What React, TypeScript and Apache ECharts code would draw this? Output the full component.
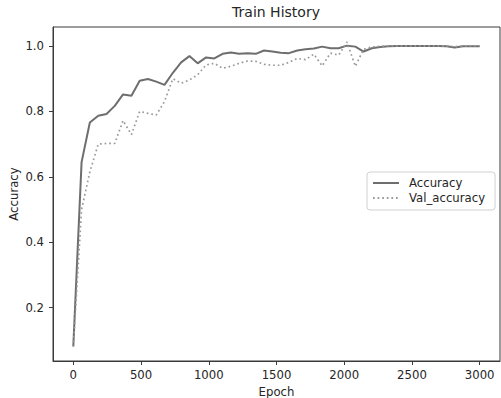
import React, { useEffect, useRef } from "react";
import * as echarts from "echarts";

const epochs = [
  0, 61, 122, 184, 245, 306, 367, 429, 490, 551, 612, 673, 735, 796, 857, 918, 980, 1041, 1102, 1163,
  1224, 1286, 1347, 1408, 1469, 1531, 1592, 1653, 1714, 1776, 1837, 1898, 1959, 2020, 2082, 2143,
  2204, 2265, 2327, 2388, 2449, 2510, 2571, 2633, 2694, 2755, 2816, 2878, 2939, 3000,
];

const accuracy = [
  0.083, 0.645, 0.766, 0.787, 0.792, 0.817, 0.852, 0.848, 0.894, 0.899, 0.891, 0.881, 0.918, 0.95,
  0.969, 0.947, 0.965, 0.962, 0.976, 0.98, 0.976, 0.978, 0.976, 0.986, 0.983, 0.979, 0.978, 0.986,
  0.99, 0.992, 0.998, 0.993, 0.993, 1.001, 0.998, 0.983, 0.993, 0.997, 0.999, 1.0, 1.0, 1.0, 1.0,
  1.0, 1.0, 0.999, 0.995, 0.999, 0.999, 0.999,
];

const valAccuracy = [
  0.08, 0.5, 0.615, 0.7, 0.702, 0.702, 0.772, 0.729, 0.8, 0.794, 0.789, 0.83, 0.9, 0.886, 0.896,
  0.912, 0.942, 0.947, 0.932, 0.938, 0.947, 0.954, 0.953, 0.944, 0.941, 0.941, 0.95, 0.962, 0.958,
  0.975, 0.939, 0.978, 0.972, 1.012, 0.938, 0.99, 0.997, 0.999, 1.0, 1.0, 1.0, 1.0, 1.0, 1.0, 1.0,
  1.0, 0.998, 1.0, 1.0, 1.0,
];

const xTicks = [0, 500, 1000, 1500, 2000, 2500, 3000];
const yTicks = [0.2, 0.4, 0.6, 0.8, 1.0];

const FONT = "DejaVu Sans";
const TEXT = "#262626";
const FRAME = "#3a3a3a";

export default function App() {
  const ref = useRef<HTMLDivElement>(null);
  useEffect(() => {
    if (!ref.current) return;
    const chart = echarts.init(ref.current, null, { renderer: "svg" });
    chart.setOption({
      animation: false,
      backgroundColor: "#ffffff",
      textStyle: { fontFamily: FONT },
      title: {
        text: "Train History",
        left: 276,
        top: 5,
        textAlign: "center",
        padding: 0,
        textStyle: { fontFamily: FONT, fontSize: 14, fontWeight: "normal", color: TEXT },
      },
      grid: {
        left: 53,
        right: 1,
        top: 27,
        bottom: 37,
        show: true,
        borderColor: FRAME,
        borderWidth: 1,
        containLabel: false,
        outerBoundsMode: "none",
      },
      legend: {
        orient: "vertical",
        left: 367,
        top: 172,
        padding: [5, 10, 6, 5],
        itemGap: 3,
        itemWidth: 26,
        itemHeight: 10,
        itemStyle: { opacity: 0 },
        backgroundColor: "#ffffff",
        borderColor: "#d0d0d0",
        borderWidth: 1,
        borderRadius: 3,
        textStyle: { fontFamily: FONT, fontSize: 11.7, color: TEXT, padding: [0, 0, 0, 5] },
        data: ["Accuracy", "Val_accuracy"],
      },
      xAxis: {
        type: "value",
        min: -150,
        max: 3150,
        name: "Epoch",
        nameLocation: "middle",
        nameGap: 24,
        nameTextStyle: { fontFamily: FONT, fontSize: 11.7, color: TEXT },
        axisLine: { show: true, onZero: false, lineStyle: { color: FRAME, width: 1 } },
        axisTick: { show: true, length: 4, customValues: xTicks, lineStyle: { color: FRAME } },
        axisLabel: {
          customValues: xTicks,
          margin: 8,
          fontFamily: FONT,
          fontSize: 11.7,
          color: TEXT,
          formatter: (v: number) => String(v),
        },
        splitLine: { show: false },
      },
      yAxis: {
        type: "value",
        min: 0.037,
        max: 1.058,
        name: "Accuracy",
        nameLocation: "middle",
        nameGap: 33,
        nameMoveOverlap: false,
        nameRotate: 90,
        nameTextStyle: { fontFamily: FONT, fontSize: 11.7, color: TEXT },
        axisLine: { show: true, onZero: false, lineStyle: { color: FRAME, width: 1 } },
        axisTick: { show: true, length: 4, customValues: yTicks, lineStyle: { color: FRAME } },
        axisLabel: {
          customValues: yTicks,
          margin: 9,
          fontFamily: FONT,
          fontSize: 11.7,
          color: TEXT,
          formatter: (v: number) => v.toFixed(1),
        },
        splitLine: { show: false },
      },
      series: [
        {
          name: "Accuracy",
          type: "line",
          data: epochs.map((e, i) => [e, accuracy[i]]),
          symbol: "none",
          lineStyle: { color: "#6e6e6e", width: 2 },
          itemStyle: { color: "#6e6e6e" },
        },
        {
          name: "Val_accuracy",
          type: "line",
          data: epochs.map((e, i) => [e, valAccuracy[i]]),
          symbol: "none",
          lineStyle: { color: "#9a9a9a", width: 1.7, type: [1.7, 2.9] },
          itemStyle: { color: "#9a9a9a" },
        },
      ],
    });
    return () => chart.dispose();
  }, []);
  return (
    <div
      ref={ref}
      style={{ position: "fixed", left: 0, top: 0, width: 501, height: 398 }}
    />
  );
}
